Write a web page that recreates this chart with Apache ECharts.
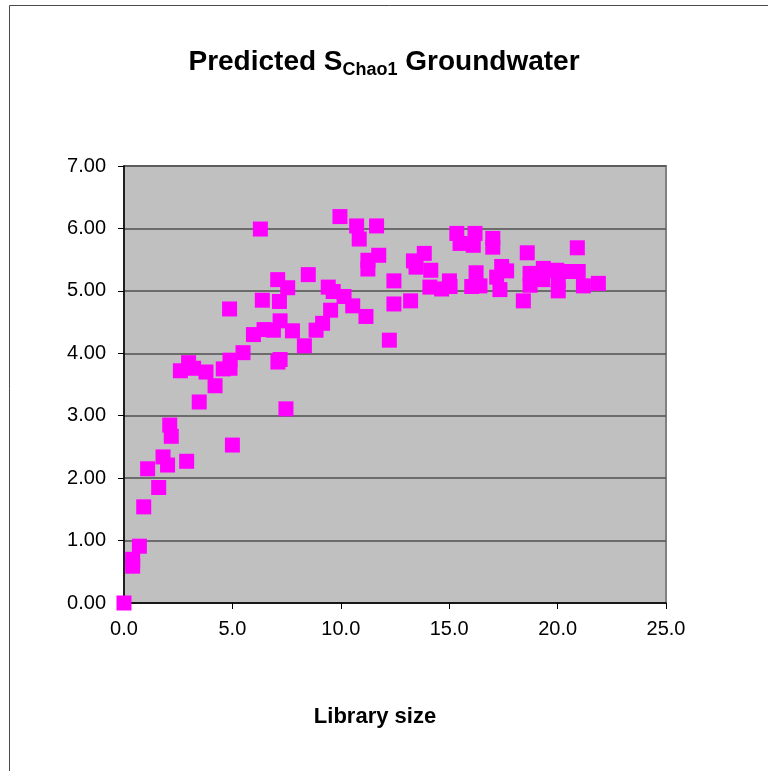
<!DOCTYPE html>
<html>
<head>
<meta charset="utf-8">
<script src="https://cdn.jsdelivr.net/npm/echarts@6/dist/echarts.min.js"></script>
<style>
html,body{margin:0;padding:0;background:#fff;}
#chart{width:768px;height:771px;}
</style>
</head>
<body>
<div id="chart"></div>
<script>
// Library size (x) and predicted S_Chao1 (y) values
var libSize = [
  0.00, 0.40, 0.40, 0.71, 0.91, 1.09, 1.60, 1.80, 2.01, 2.11,
  2.18, 2.89, 2.60, 2.98, 3.21, 3.78, 3.47, 4.20, 4.58, 4.89,
  4.89, 4.87, 5.00, 5.49, 5.97, 6.29, 6.38, 6.46, 6.89, 7.09,
  7.17, 7.20, 7.55, 7.77, 7.10, 7.20, 7.47, 8.32, 8.50, 8.86,
  9.16, 9.53, 9.42, 9.65, 10.15, 10.55, 11.16, 9.96, 10.73, 10.85,
  11.65, 11.75, 11.25, 11.25, 12.45, 12.45, 12.24, 13.22, 13.35, 13.47,
  13.85, 14.15, 14.11, 14.65, 15.01, 15.04, 15.35, 15.50, 16.19, 16.11,
  16.24, 16.04, 16.42, 17.01, 17.01, 18.60, 20.91, 17.42, 17.65, 17.19,
  17.34, 18.42, 18.73, 18.73, 19.34, 19.31, 19.96, 20.03, 20.03, 20.49,
  20.95, 21.19, 21.88
];
var chao1 = [
  0.00, 0.70, 0.59, 0.91, 1.54, 2.15, 1.85, 2.34, 2.21, 2.85,
  2.67, 2.27, 3.72, 3.85, 3.76, 3.70, 3.22, 3.48, 3.75, 3.89,
  3.76, 4.71, 2.53, 4.01, 4.30, 5.99, 4.85, 4.38, 4.37, 5.18,
  4.83, 4.52, 5.05, 4.36, 3.86, 3.90, 3.11, 4.12, 5.26, 4.37,
  4.48, 4.69, 5.06, 4.99, 4.91, 4.76, 4.59, 6.19, 6.04, 5.83,
  6.04, 5.57, 5.49, 5.35, 5.16, 4.79, 4.21, 4.84, 5.48, 5.38,
  5.60, 5.33, 5.06, 5.03, 5.16, 5.07, 5.92, 5.76, 5.92, 5.73,
  5.29, 5.07, 5.08, 5.84, 5.70, 5.61, 5.69, 5.39, 5.32, 5.22,
  5.02, 4.84, 5.28, 5.09, 5.36, 5.18, 5.33, 5.17, 5.00, 5.31,
  5.31, 5.08, 5.12
];
var xTicks = [0, 5, 10, 15, 20, 25];
var yTicks = [0, 1, 2, 3, 4, 5, 6, 7];

var points = libSize.map(function (x, i) { return [x, chao1[i]]; });
var FONT = '"Liberation Sans", Arial, sans-serif';

var chart = echarts.init(document.getElementById('chart'), null, {renderer: 'canvas'});
chart.setOption({
  backgroundColor: '#ffffff',
  animation: false,
  title: {
    text: '{a|Predicted S}{b|Chao1}{a| Groundwater}',
    left: 'center',
    top: 48,
    padding: [0, 0, 0, 14],
    textStyle: {
      rich: {
        a: {fontFamily: FONT, fontSize: 28, fontWeight: 'bold', color: '#000', lineHeight: 31, verticalAlign: 'top'},
        b: {fontFamily: FONT, fontSize: 18, fontWeight: 'bold', color: '#000', lineHeight: 20, padding: [22, 0, 0, 0], verticalAlign: 'bottom'}
      }
    }
  },
  graphic: [{
    type: 'rect',
    silent: true,
    z: 100,
    shape: {x: 9.5, y: 5.5, width: 900, height: 900},
    style: {fill: 'none', stroke: '#4a4a4a', lineWidth: 1}
  }],
  grid: {
    left: 124, right: 102, top: 166, bottom: 168,
    show: true,
    backgroundColor: '#c0c0c0',
    borderColor: '#808080',
    borderWidth: 2
  },
  xAxis: {
    type: 'value',
    min: xTicks[0], max: xTicks[xTicks.length - 1], interval: 5,
    name: 'Library size',
    nameLocation: 'middle',
    nameGap: 103,
    nameTextStyle: {fontFamily: FONT, fontSize: 22, fontWeight: 'bold', color: '#000', padding: [0, 40, 0, 0]},
    axisLine: {show: true, onZero: false, lineStyle: {color: '#000', width: 1.5}},
    axisTick: {show: true, length: 6, inside: false, lineStyle: {color: '#000', width: 1}},
    axisLabel: {margin: 16, fontFamily: FONT, fontSize: 20, color: '#000',
      formatter: function (v) { return v.toFixed(1); }},
    splitLine: {show: false}
  },
  yAxis: {
    type: 'value',
    min: yTicks[0], max: yTicks[yTicks.length - 1], interval: 1,
    axisLine: {show: true, onZero: false, lineStyle: {color: '#000', width: 1.5}},
    axisTick: {show: true, length: 6, inside: false, lineStyle: {color: '#000', width: 1}},
    axisLabel: {margin: 18, fontFamily: FONT, fontSize: 20, color: '#000',
      formatter: function (v) { return v.toFixed(2); }},
    splitLine: {show: true, lineStyle: {color: '#505050', width: 1.5}}
  },
  series: [{
    type: 'scatter',
    data: points,
    symbol: 'rect',
    symbolSize: 15,
    clip: false,
    itemStyle: {color: '#ff00ff', opacity: 1}
  }]
});
</script>
</body>
</html>
